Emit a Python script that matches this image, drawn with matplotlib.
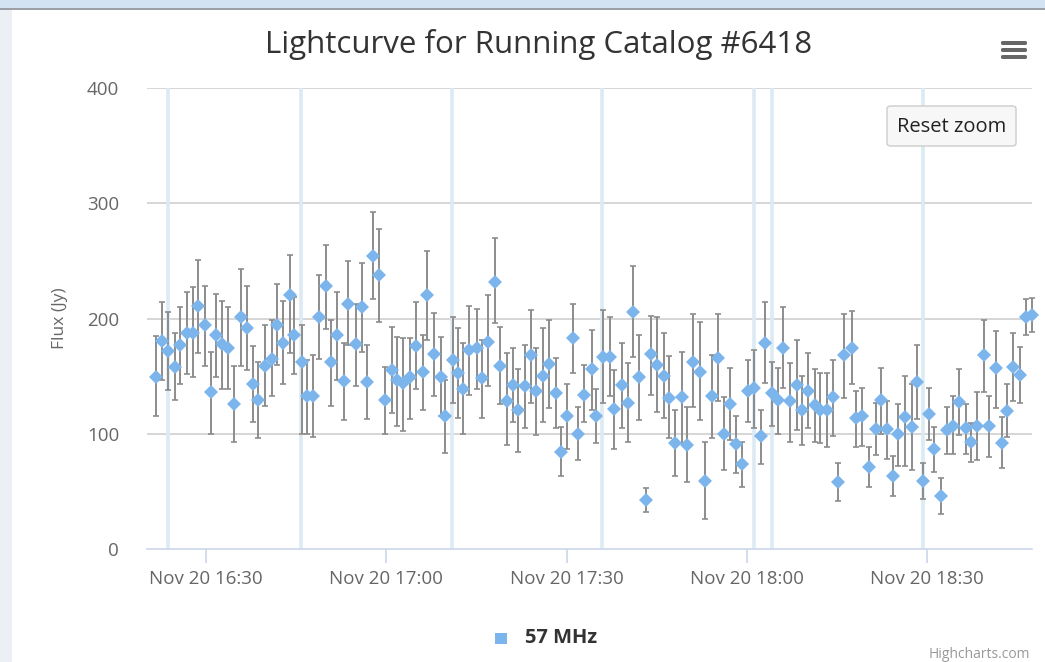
import matplotlib
matplotlib.use("Agg")
import matplotlib.pyplot as plt
import matplotlib.dates as mdates
from matplotlib.patches import Rectangle, FancyBboxPatch
import pandas as pd
import numpy as np

# ---- data (minutes after 16:00 on Nov 20) ----
minutes_after_1600 = [
    21.68, 22.63, 23.73, 24.84, 25.67, 26.79, 27.89, 28.72, 29.83, 30.78,
    31.66, 32.61, 33.71, 34.71, 35.77, 36.77, 37.87, 38.70, 39.82, 40.93,
    41.76, 42.76, 43.98, 44.64, 45.92, 46.76, 47.75, 48.85, 49.97, 50.75,
    51.85, 52.96, 53.68, 54.91, 55.91, 56.74, 57.84, 58.84, 59.78, 60.90,
    61.83, 62.83, 63.94, 64.94, 66.06, 66.82, 67.94, 69.05, 69.77, 71.05,
    71.98, 72.81, 73.81, 75.04, 75.87, 76.97, 78.09, 78.92, 80.03, 81.03,
    81.86, 83.08, 84.03, 84.91, 86.12, 87.12, 88.19, 89.02, 90.02, 91.11,
    91.95, 92.95, 94.18, 94.89, 96.01, 97.22, 97.94, 99.17, 100.27, 101.00,
    102.10, 103.21, 103.99, 105.09, 106.21, 107.09, 108.04, 109.15, 109.98, 111.08,
    112.20, 113.03, 114.14, 115.14, 116.24, 117.19, 118.14, 119.23, 120.23, 121.18,
    122.30, 123.01, 124.13, 125.22, 125.96, 127.17, 128.29, 129.12, 130.22, 131.33,
    132.16, 133.28, 134.38, 135.11, 136.21, 137.44, 138.10, 139.20, 140.32, 141.48,
    142.26, 143.26, 144.36, 145.19, 146.31, 147.42, 148.25, 149.25, 150.35, 151.18,
    152.30, 153.34, 154.24, 155.34, 156.46, 157.29, 158.34, 159.45, 160.28, 161.40,
    162.50, 163.39, 164.33, 165.44, 166.44, 167.39,
]
flux = [
    149.5, 180.7, 172, 158, 177, 187, 187, 211, 194, 136,
    186, 178, 174, 126, 201, 192, 143, 129, 159, 165,
    194, 179, 220, 186, 162.5, 133, 133, 201.5, 228, 162.5,
    186, 146, 212.5, 177.6, 210, 145, 254, 238, 129, 155,
    147, 144, 149, 176, 154, 220, 169, 149.5, 115, 164,
    153, 139, 173, 174, 148, 180, 232, 159, 128, 142,
    120.6, 141, 168, 137, 150, 160.5, 135, 84, 115.7, 183,
    100, 133.6, 156, 115, 167, 167, 121.5, 142, 127, 206,
    149, 42.5, 169, 160, 150, 131, 91.7, 131.6, 90, 162.5,
    154, 59, 133, 165.5, 100, 126, 91, 73.5, 137, 139.4,
    98, 179, 135, 129, 174.7, 128, 142, 120.6, 137, 125,
    120.6, 121, 131.6, 58.4, 168.3, 174.7, 113.4, 115.4, 71.4, 103.8,
    129, 103.8, 63.3, 100, 114.3, 105.6, 144.6, 59, 116.8, 86.5,
    46, 103, 107, 127.3, 104.7, 92.6, 106.7, 168.3, 106.7, 156.8,
    91.7, 120, 157.6, 151, 201.5, 203,
]
flux_low = [
    115, 147, 138, 129, 143, 152, 149, 170, 159, 100,
    149, 139, 139, 93, 159, 155, 110, 96, 124, 133,
    160, 143, 170, 152, 100, 100, 97, 165, 191, 124,
    147, 112, 177, 141, 171, 113, 217, 197, 100, 118,
    107, 102, 113, 139, 121, 181, 133, 115, 83, 127,
    114, 100, 134, 139, 114, 141, 196, 126, 90, 110,
    84, 105, 127, 99, 110, 122.6, 105, 63, 87, 153,
    77, 110, 121, 91.7, 127, 133, 87, 105, 93, 167,
    112, 31.8, 134, 118.6, 114, 96, 63, 91.7, 58, 123,
    112, 25.8, 96, 128, 68.5, 95, 65.7, 53.5, 110, 104.7,
    74, 144, 107, 100, 139.4, 93, 103, 90, 104.7, 93,
    91.7, 88.8, 98, 41.6, 130.8, 142.9, 88.8, 89.7, 54, 81.6,
    100, 77.8, 46.2, 72.3, 72.3, 68.5, 112.8, 43, 94.6, 67,
    30.4, 82.4, 82.4, 99, 82.4, 75.2, 77.2, 136.5, 80, 122.6,
    70, 97.4, 128, 127, 185.7, 188,
]
flux_high = [
    185, 214, 206, 187, 210, 223, 227, 251, 228, 171,
    221, 215, 210, 159, 243, 228, 176, 162, 194, 199,
    230, 215, 255, 219, 194, 164, 168, 238, 264, 199,
    223, 179, 250, 213, 248, 177, 292, 278, 158, 193,
    184, 183, 183, 214, 186, 259, 205, 184, 147, 201.5,
    191.5, 178.5, 211, 208, 181, 220, 270, 193, 170, 174,
    156, 177, 207, 174, 191.5, 198.7, 165.5, 105.6, 143, 212.6,
    123, 159.7, 190, 138.6, 207, 201.5, 155, 178.5, 161.6, 245.5,
    185.7, 52.7, 202.4, 201, 187, 167.5, 121, 171, 123, 204,
    196.7, 93, 168, 204, 131.6, 156.8, 115.7, 92.6, 164, 172.7,
    121, 214, 162.5, 156.8, 209.7, 161.6, 181, 150, 170, 156,
    153, 153, 164, 74.4, 204, 206.8, 137.4, 140, 88.8, 126.4,
    157.3, 128.7, 80.7, 125.8, 150, 143, 177, 74.4, 139.4, 105.6,
    61.9, 123, 132.7, 156, 125.8, 109.6, 136, 198.7, 132.7, 189.4,
    114.3, 143, 187, 175.5, 217, 218,
]
# vertical marker lines (minutes after 16:00)
marker_lines_min = [23.68, 45.81, 70.93, 95.89, 121.18, 124.18, 149.30]

title_text = "Lightcurve for Running Catalog #6418"
y_label = "Flux (Jy)"
series_name = "57 MHz"
y_ticks = [0, 100, 200, 300, 400]

base = pd.Timestamp("2015-11-20 16:00:00")
times = [base + pd.Timedelta(minutes=m) for m in minutes_after_1600]
line_times = [base + pd.Timedelta(minutes=m) for m in marker_lines_min]
x = mdates.date2num(times)
xl = mdates.date2num(line_times)
v = np.array(flux)
lo = np.array(flux_low)
hi = np.array(flux_high)

plt.rcParams['font.family'] = ['Open Sans', 'DejaVu Sans']

W, H = 1045, 662
fig = plt.figure(figsize=(W / 100, H / 100), dpi=100)
fig.patch.set_facecolor("white")

# page frame pieces
fig.patches.append(Rectangle((0, 1 - 8 / H), 1, 8 / H, transform=fig.transFigure,
                             facecolor="#d3e3f3", edgecolor="none", zorder=0))
fig.lines.append(plt.Line2D([0, 1], [1 - 8.5 / H, 1 - 8.5 / H], transform=fig.transFigure,
                            color="#8a8f96", lw=1.2))
fig.patches.append(Rectangle((0, 0), 12 / W, 1 - 9 / H, transform=fig.transFigure,
                             facecolor="#eceff4", edgecolor="none", zorder=0))

ax_left, ax_right = 147 / W, 1031.7 / W
ax_bottom, ax_top = (H - 549) / H, (H - 88) / H
ax = fig.add_axes([ax_left, ax_bottom, ax_right - ax_left, ax_top - ax_bottom])
ax.set_facecolor("none")

x0 = mdates.date2num(base + pd.Timedelta(minutes=20.18))
x1 = mdates.date2num(base + pd.Timedelta(minutes=167.42))
ax.set_xlim(x0, x1)
ax.set_ylim(0, 400)

for yt in y_ticks[1:]:
    ax.axhline(yt, color="#cfcfcf", lw=1.2, zorder=1)
for xv in xl:
    ax.axvline(xv, color="#dbeaf3", lw=2.6, zorder=1)

ax.errorbar(x, v, yerr=[v - lo, hi - v], fmt="none", ecolor="#8c8c8c",
            elinewidth=1.4, capsize=2.5, capthick=1.2, zorder=3, clip_on=False)
ax.plot(x, v, linestyle="none", marker="D", markersize=7.5, color="#7cb5ec",
        markeredgewidth=0, zorder=4, clip_on=False)

for s in ["top", "right", "left"]:
    ax.spines[s].set_visible(False)
ax.spines["bottom"].set_color("#ccd6eb")
ax.spines["bottom"].set_linewidth(1.2)

ax.xaxis.set_major_locator(mdates.MinuteLocator(byminute=[0, 30]))
ax.xaxis.set_major_formatter(mdates.DateFormatter("%b %d %H:%M"))
ax.tick_params(axis="x", colors="#ccd6eb", length=10, width=1.2, labelcolor="#666666",
               labelsize=13.5, pad=5)
ax.set_yticks(y_ticks)
ax.tick_params(axis="y", length=0, labelcolor="#666666", labelsize=13.5, pad=20)
ax.set_ylabel(y_label, color="#666666", fontsize=12.5, labelpad=14)

fig.text(539 / W, 1 - 44 / H, title_text, ha="center", va="center",
         fontsize=22.5, color="#333333")

# hamburger menu icon
for yy in [43, 50, 57]:
    fig.patches.append(FancyBboxPatch((1001 / W, 1 - (yy + 2) / H), 26 / W, 4 / H,
                                      boxstyle="round,pad=0,rounding_size=0.002",
                                      transform=fig.transFigure, facecolor="#666666",
                                      edgecolor="none"))

# reset zoom button
fig.patches.append(FancyBboxPatch((887 / W, 1 - 146 / H), 129 / W, 40 / H,
                                  boxstyle="round,pad=0,rounding_size=0.004",
                                  transform=fig.transFigure, facecolor="#f7f7f7",
                                  edgecolor="#cccccc", lw=1))
fig.text(951.5 / W, 1 - 127 / H, "Reset zoom", ha="center", va="center",
         fontsize=14.5, color="#222222")

# legend
fig.patches.append(Rectangle((495 / W, 1 - 644 / H), 12 / W, 11 / H, transform=fig.transFigure,
                             facecolor="#7cb5ec", edgecolor="none"))
fig.text(525 / W, 1 - 638 / H, series_name, ha="left", va="center", fontsize=14.5,
         fontweight="bold", color="#333333")

# credits
fig.text(1030 / W, 1 - 655 / H, "Highcharts.com", ha="right", va="center",
         fontsize=10, color="#999999")

fig.savefig("out.png", dpi=100, facecolor="white")
